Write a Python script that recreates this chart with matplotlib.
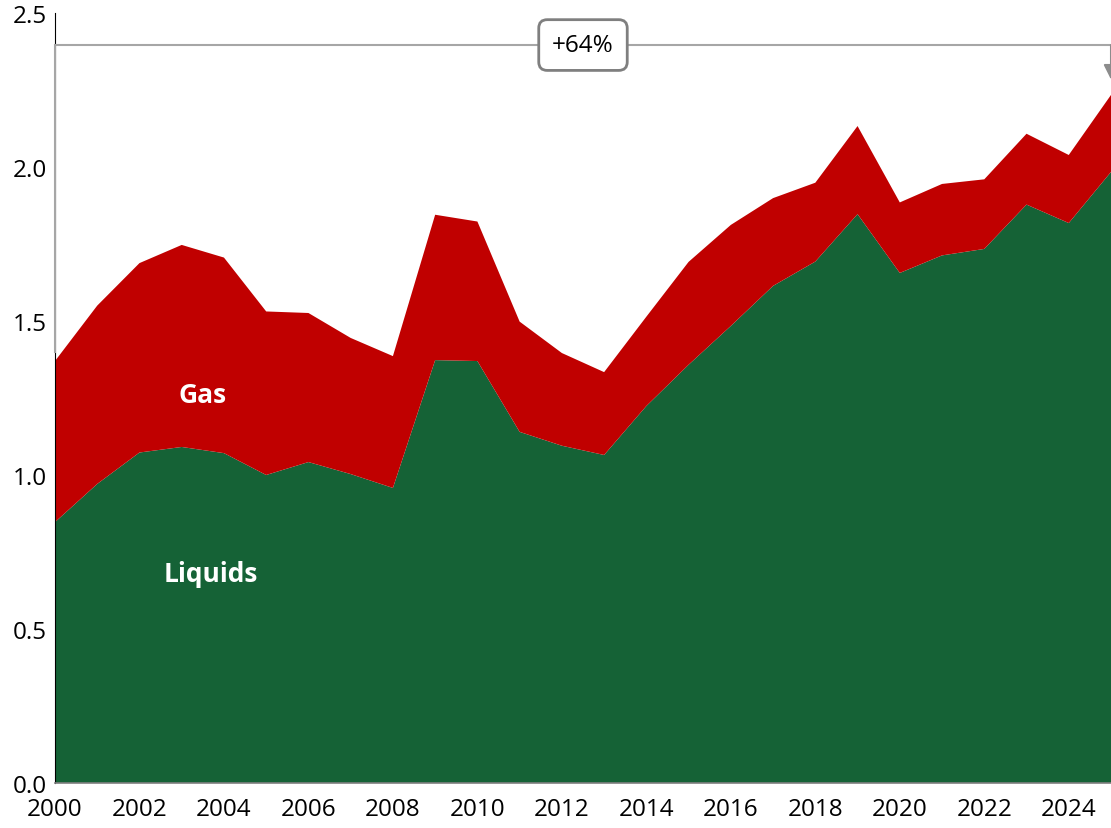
import numpy as np
import matplotlib.pyplot as plt

# Years and stacked series
years = np.arange(2000, 2026)
liquids = [0.847, 0.971, 1.073, 1.091, 1.071, 1.000, 1.042, 1.003, 0.958, 1.373,
           1.370, 1.140, 1.095, 1.065, 1.224, 1.358, 1.484, 1.614, 1.693, 1.847,
           1.656, 1.713, 1.734, 1.878, 1.818, 1.984]
total = [1.370, 1.550, 1.688, 1.747, 1.706, 1.531, 1.526, 1.445, 1.386, 1.845,
         1.823, 1.498, 1.396, 1.334, 1.514, 1.692, 1.812, 1.899, 1.949, 2.133,
         1.885, 1.945, 1.960, 2.108, 2.039, 2.234]
gas = [t - l for t, l in zip(total, liquids)]

bracket_y = 2.396
growth_label = '+64%'

plt.rcParams['font.family'] = ['Open Sans', 'DejaVu Sans']

fig = plt.figure(figsize=(11.11, 8.29), dpi=100)
ax = fig.add_axes([0.0495, 0.0543, 0.9505, 0.9288])

ax.stackplot(years, liquids, gas, colors=['#156236', '#C00000'], linewidth=0)

# growth bracket
grey = '#A6A6A6'
ax.plot([years[0], years[-1]], [bracket_y, bracket_y], color=grey, lw=1.5, zorder=3)
ax.plot([years[0], years[0]], [bracket_y, total[0] + 0.03], color=grey, lw=1.5,
        zorder=4, clip_on=False)
ax.annotate('', xy=(years[-1], total[-1] + 0.05), xytext=(years[-1], bracket_y),
            arrowprops=dict(arrowstyle='-|>', color='#8C8C8C', lw=1.5,
                            mutation_scale=22, shrinkA=0, shrinkB=0))
ax.text((years[0] + years[-1]) / 2, bracket_y, growth_label, ha='center', va='center',
        fontsize=17.5, zorder=5,
        bbox=dict(boxstyle='round,pad=0.55,rounding_size=0.35', fc='white',
                  ec='#7F7F7F', lw=2))

ax.text(2003.5, 1.26, 'Gas', color='white', fontsize=19, fontweight='bold',
        ha='center', va='center')
ax.text(2003.7, 0.68, 'Liquids', color='white', fontsize=19, fontweight='bold',
        ha='center', va='center')

ax.set_xlim(2000, 2025)
ax.set_ylim(0, 2.5)
ax.set_xticks(np.arange(2000, 2025, 2))
ax.set_yticks(np.arange(0, 2.51, 0.5))
ax.set_yticklabels([f'{v:.1f}' for v in np.arange(0, 2.51, 0.5)])
ax.tick_params(length=0, labelsize=17.5)
ax.tick_params(axis='x', pad=10)
ax.tick_params(axis='y', pad=6)

for s in ['top', 'right']:
    ax.spines[s].set_visible(False)
ax.spines['left'].set_color('black')
ax.spines['bottom'].set_color('#7F7F7F')
ax.spines['bottom'].set_linewidth(1.2)

fig.savefig('out.png', dpi=100)
